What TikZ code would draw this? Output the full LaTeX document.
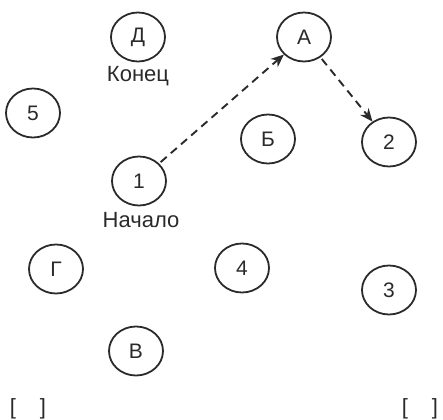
\documentclass[tikz,border=0pt]{standalone}
\usepackage{fontspec}
\setmainfont{Liberation Sans}
\usetikzlibrary{arrows.meta,shapes.geometric}
\definecolor{ink}{HTML}{2A2A2A}
\tikzset{
  st/.style={draw=ink, line width=1.8pt, ellipse, minimum width=54pt, minimum height=49pt, inner sep=0pt, font=\fontsize{21}{24}\selectfont, text=ink},
  lbl/.style={font=\fontsize{22}{24}\selectfont, text=ink, inner sep=0pt},
  arr/.style={draw=ink, line width=1.9pt, dash pattern=on 8pt off 5.5pt, -{Stealth[length=13pt,width=11pt]}, shorten <=2pt},
  br/.style={font=\fontsize{22}{24}\selectfont, text=ink, inner sep=0pt}
}
\begin{document}
\begin{tikzpicture}[x=1pt,y=-1pt]
\useasboundingbox (0,0) rectangle (443,419);
\node[st] (D) at (138,37) {Д};
\node[lbl] (kon) at (138,76) {Конец};
\node[st] (A) at (304,37) {А};
\node[st] (n5) at (33,113) {5};
\node[st] (B) at (268,139) {Б};
\node[st] (n2) at (389,142) {2};
\node[st] (n1) at (139,181) {1};
\node[lbl] (nach) at (141,220) {Начало};
\node[st] (G) at (56,269) {Г};
\node[st] (n4) at (242,268) {4};
\node[st] (n3) at (389,290) {3};
\node[st] (V) at (136,351) {В};
\node[br] (bl) at (28,409) {[\hspace{24pt}]};
\node[br] (brr) at (420,409) {[\hspace{24pt}]};
\draw[arr] (n1) -- (A);
\draw[arr] (A) -- (n2);
\end{tikzpicture}
\end{document}
